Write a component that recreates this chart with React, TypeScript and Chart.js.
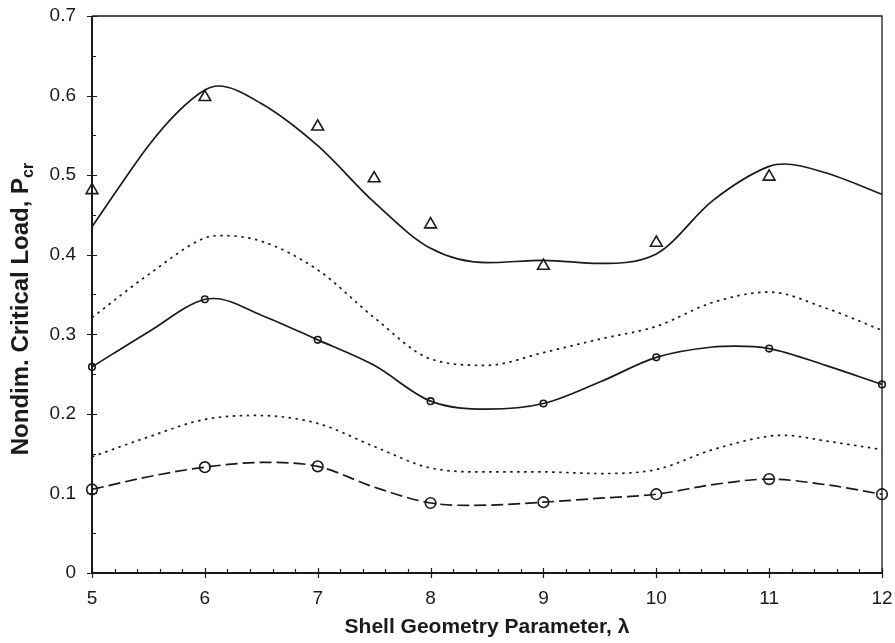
import React, { useEffect, useRef } from "react";
import { Chart, registerables } from "chart.js";

Chart.register(...registerables);

// ---- axis ticks ----
const xTickValues = [5, 6, 7, 8, 9, 10, 11, 12];
const yTickValues = [0, 0.1, 0.2, 0.3, 0.4, 0.5, 0.6, 0.7];

// ---- measured points (markers) ----
const triangleX = [5, 6, 7, 7.5, 8, 9, 10, 11];
const triangleY = [0.481, 0.598, 0.561, 0.496, 0.438, 0.386, 0.415, 0.498];

const circleX = [5, 6, 7, 8, 9, 10, 11, 12];
const smallCircleY = [0.259, 0.344, 0.293, 0.216, 0.213, 0.271, 0.282, 0.237];
const largeCircleY = [0.105, 0.133, 0.134, 0.088, 0.089, 0.099, 0.118, 0.099];

// ---- curves ----
const topSolidX = [5, 5.25, 5.5, 5.75, 6, 6.12, 6.5, 7, 7.5, 8, 8.5, 9, 9.5, 10, 10.5, 11, 11.14, 11.5, 12];
const topSolidY = [0.435, 0.487, 0.537, 0.578, 0.607, 0.612, 0.59, 0.537, 0.466, 0.408, 0.39, 0.393, 0.389, 0.401, 0.468, 0.511, 0.514, 0.503, 0.476];

const upperDottedX = [5, 5.5, 6, 6.16, 6.5, 7, 7.5, 8, 8.5, 9, 9.5, 10, 10.5, 11, 11.5, 12];
const upperDottedY = [0.321, 0.375, 0.421, 0.424, 0.417, 0.381, 0.321, 0.269, 0.261, 0.277, 0.294, 0.31, 0.34, 0.353, 0.333, 0.305];

const midSolidX = [5, 5.5, 6, 6.08, 6.5, 7, 7.5, 8, 8.5, 9, 9.5, 10, 10.5, 10.7, 11, 11.5, 12];
const midSolidY = [0.259, 0.303, 0.344, 0.345, 0.324, 0.293, 0.261, 0.216, 0.206, 0.213, 0.24, 0.271, 0.284, 0.285, 0.282, 0.261, 0.237];

const lowerDottedX = [5, 5.5, 6, 6.46, 7, 7.5, 8, 8.5, 9, 9.5, 10, 10.5, 11, 11.13, 11.5, 12];
const lowerDottedY = [0.146, 0.171, 0.193, 0.198, 0.188, 0.159, 0.132, 0.127, 0.127, 0.125, 0.13, 0.155, 0.172, 0.173, 0.166, 0.155];

const dashedX = [5, 5.5, 6, 6.52, 7, 7.5, 8, 8.38, 9, 9.5, 10, 10.5, 11, 11.5, 12];
const dashedY = [0.105, 0.121, 0.133, 0.139, 0.134, 0.108, 0.088, 0.085, 0.089, 0.094, 0.099, 0.111, 0.118, 0.111, 0.099];

const INK = "#1a1a1a";
const FONT = "'Liberation Sans', Arial, Helvetica, sans-serif";

const zip = (xs: number[], ys: number[]) => xs.map((x, i) => ({ x, y: ys[i] }));

const curve = (xs: number[], ys: number[], dash: number[]) => ({
  data: zip(xs, ys),
  showLine: true,
  borderColor: INK,
  borderWidth: 1.7,
  borderDash: dash,
  borderCapStyle: "butt",
  pointRadius: 0,
  pointHoverRadius: 0,
  cubicInterpolationMode: "monotone",
  clip: false,
  fill: false,
});

const markers = (xs: number[], ys: number[], style: string, r: number) => ({
  data: zip(xs, ys),
  showLine: false,
  pointStyle: style,
  pointRadius: r,
  pointBorderWidth: 1.6,
  pointBorderColor: INK,
  pointBackgroundColor: "rgba(255,255,255,0)",
  clip: false,
});

const framePlugin = {
  id: "frame",
  beforeDatasetsDraw(chart: any) {
    const { ctx, chartArea: a, scales } = chart;
    const xs = scales.x;
    const ys = scales.y;
    ctx.save();
    ctx.strokeStyle = INK;
    ctx.lineWidth = 1.3;
    ctx.beginPath();
    ctx.moveTo(a.left, a.top);
    ctx.lineTo(a.right, a.top);
    ctx.lineTo(a.right, a.bottom);
    ctx.stroke();
    ctx.lineWidth = 2;
    ctx.beginPath();
    ctx.moveTo(a.left, a.top);
    ctx.lineTo(a.left, a.bottom);
    ctx.lineTo(a.right, a.bottom);
    ctx.stroke();
    ctx.lineWidth = 1.2;
    ctx.beginPath();
    for (let i = 0; i <= 35; i++) {
      const v = 5 + i * 0.2;
      const px = Math.round(xs.getPixelForValue(v)) + 0.5;
      const major = i % 5 === 0;
      ctx.moveTo(px, a.bottom + (major ? 5 : 0));
      ctx.lineTo(px, a.bottom - (major ? 5 : 4));
    }
    for (let j = 0; j <= 14; j++) {
      const v = j * 0.05;
      const py = Math.round(ys.getPixelForValue(v)) + 0.5;
      const major = j % 2 === 0;
      ctx.moveTo(a.left - (major ? 5 : 0), py);
      ctx.lineTo(a.left + (major ? 5 : 4), py);
    }
    ctx.stroke();
    ctx.restore();
  },
  afterDraw(chart: any) {
    const { ctx, chartArea: a } = chart;
    ctx.save();
    ctx.fillStyle = INK;
    // x title
    ctx.font = `bold 21px ${FONT}`;
    ctx.textAlign = "center";
    ctx.textBaseline = "alphabetic";
    ctx.fillText("Shell Geometry Parameter, \u03bb", (a.left + a.right) / 2, 633);
    // y title with subscript
    const main = "Nondim. Critical Load, P";
    const sub = "cr";
    ctx.font = `bold 24px ${FONT}`;
    const w1 = ctx.measureText(main).width;
    ctx.font = `bold 16px ${FONT}`;
    const w2 = ctx.measureText(sub).width;
    const total = w1 + w2;
    ctx.translate(28, 309);
    ctx.rotate(-Math.PI / 2);
    ctx.textAlign = "left";
    ctx.font = `bold 24px ${FONT}`;
    ctx.fillText(main, -total / 2, 0);
    ctx.font = `bold 16px ${FONT}`;
    ctx.fillText(sub, -total / 2 + w1, 5);
    ctx.restore();
  },
};

const zeroPad = (s: any) => {
  s.paddingTop = 0;
  s.paddingBottom = 0;
  s.paddingLeft = 0;
  s.paddingRight = 0;
};

export default function App() {
  const ref = useRef<HTMLCanvasElement | null>(null);

  useEffect(() => {
    if (!ref.current) return;
    const chart = new Chart(ref.current, {
      type: "scatter",
      data: {
        datasets: [
          curve(topSolidX, topSolidY, []),
          curve(upperDottedX, upperDottedY, [2.5, 4.5]),
          curve(midSolidX, midSolidY, []),
          curve(lowerDottedX, lowerDottedY, [2.5, 4.5]),
          curve(dashedX, dashedY, [12, 5]),
          markers(triangleX, triangleY, "triangle", 6.8),
          markers(circleX, smallCircleY, "circle", 3.3),
          markers(circleX, largeCircleY, "circle", 5.3),
        ] as any,
      },
      options: {
        animation: false,
        responsive: false,
        maintainAspectRatio: false,
        layout: { padding: { left: 0, right: 13, top: 16, bottom: 0 } },
        plugins: {
          legend: { display: false },
          tooltip: { enabled: false },
          title: { display: false },
        },
        scales: {
          x: {
            type: "linear",
            min: 5,
            max: 12,
            afterFit: (s: any) => {
              s.height = 70;
              zeroPad(s);
            },
            afterBuildTicks: (s: any) => {
              s.ticks = xTickValues.map((v) => ({ value: v }));
            },
            grid: { display: false, drawTicks: false },
            border: { display: false },
            ticks: {
              color: INK,
              font: { family: FONT, size: 19 },
              padding: 14,
              maxRotation: 0,
              callback: (v: any) => String(v),
            },
          },
          y: {
            type: "linear",
            min: 0,
            max: 0.7,
            afterFit: (s: any) => {
              s.width = 92;
              zeroPad(s);
            },
            afterBuildTicks: (s: any) => {
              s.ticks = yTickValues.map((v) => ({ value: v }));
            },
            grid: { display: false, drawTicks: false },
            border: { display: false },
            ticks: {
              color: INK,
              font: { family: FONT, size: 19 },
              padding: 16,
              callback: (v: any) => (Math.abs(v) < 1e-9 ? "0" : Number(v).toFixed(1)),
            },
          },
        },
      },
      plugins: [framePlugin],
    } as any);
    return () => chart.destroy();
  }, []);

  return (
    <div style={{ position: "absolute", left: 0, top: 0, width: 895, height: 643, background: "#fff" }}>
      <canvas ref={ref} width={895} height={643} style={{ width: 895, height: 643, display: "block" }} />
    </div>
  );
}
